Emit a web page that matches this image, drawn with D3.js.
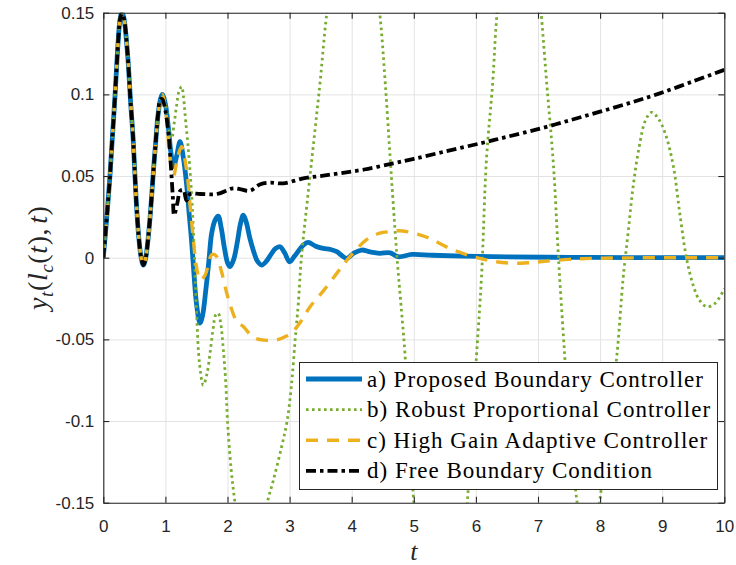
<!DOCTYPE html>
<html>
<head>
<meta charset="utf-8">
<script src="https://cdn.jsdelivr.net/npm/d3@7"></script>
<style>
  body { margin: 0; background: #fff; }
  svg { display: block; }
</style>
</head>
<body>
<div id="chart"></div>
<script>

// Chart size and plot box (MATLAB style figure)
const width = 736;
const height = 565;
const margin = {left: 103.3, right: 11.7, top: 12.7, bottom: 62.3};

// axis ticks and their labels
const xTicks = [0, 1, 2, 3, 4, 5, 6, 7, 8, 9, 10];
const yTicks = [-0.15, -0.1, -0.05, 0, 0.05, 0.1, 0.15];
const yTickLabels = ["-0.15", "-0.1", "-0.05", "0", "0.05", "0.1", "0.15"];

const legendLabels = [
  "a) Proposed Boundary Controller",
  "b) Robust Proportional Controller",
  "c) High Gain Adaptive Controller",
  "d) Free Boundary Condition"
];

// shared first oscillations (all four runs are identical until t ~ 0.95)
const startPart = [
  [0, 0], [0.05, 0.022], [0.107, 0.05], [0.15, 0.076], [0.19, 0.1], [0.24, 0.133],
  [0.27, 0.146], [0.3, 0.15], [0.33, 0.147], [0.39, 0.125], [0.44, 0.095], [0.48, 0.073],
  [0.53, 0.035], [0.57, 0.013], [0.61, 0.0], [0.645, -0.0045], [0.68, -0.0007],
  [0.72, 0.011], [0.76, 0.028], [0.805, 0.052], [0.84, 0.069], [0.88, 0.087], [0.92, 0.097]
];

// a) proposed boundary controller
const restA = [
  [0.95, 0.1], [1.0, 0.094], [1.05, 0.079], [1.09, 0.064], [1.13, 0.0557], [1.18, 0.062],
  [1.235, 0.071], [1.29, 0.061], [1.34, 0.0455], [1.38, 0.028], [1.42, 0.011], [1.46, -0.01],
  [1.5, -0.028], [1.557, -0.04], [1.6, -0.035], [1.65, -0.02], [1.7, -0.002], [1.745, 0.015],
  [1.8, 0.023], [1.85, 0.0255], [1.9, 0.018], [1.95, 0.006], [2.0, -0.003], [2.04, -0.0055],
  [2.1, -0.001], [2.16, 0.01], [2.21, 0.021], [2.255, 0.026], [2.3, 0.022], [2.36, 0.012],
  [2.42, 0.004], [2.48, -0.002], [2.55, -0.0045], [2.63, -0.002], [2.7, 0.002], [2.77, 0.0055],
  [2.845, 0.0067], [2.92, 0.003], [3.0, -0.0025], [3.08, 0.001], [3.16, 0.005], [3.23, 0.008],
  [3.3, 0.0094], [3.42, 0.007], [3.54, 0.0057], [3.66, 0.005], [3.76, 0.0037], [3.85, 0.001],
  [3.92, -0.0004], [4.04, 0.003], [4.16, 0.0047], [4.3, 0.0035], [4.45, 0.0027], [4.62, 0.003],
  [4.75, 0.0006], [4.97, 0.002], [5.3, 0.0015], [5.8, 0.001], [6.5, 0.0005], [7.5, 0.0002],
  [8.5, 0.0001], [10, 0]
];

// b) robust proportional controller (leaves the window several times)
const restB = [
  [0.95, 0.1], [1.02, 0.09], [1.06, 0.078], [1.1, 0.073], [1.14, 0.082], [1.18, 0.093],
  [1.22, 0.102], [1.262, 0.1047], [1.29, 0.099], [1.316, 0.088], [1.37, 0.066], [1.42, 0.04],
  [1.46, 0.008], [1.5, -0.032], [1.55, -0.065], [1.61, -0.078], [1.67, -0.071], [1.72, -0.058],
  [1.77, -0.043], [1.81, -0.035], [1.85, -0.034], [1.89, -0.04], [1.93, -0.055], [1.97, -0.075],
  [2.0, -0.1], [2.06, -0.13], [2.12, -0.15], [2.2, -0.172], [2.3, -0.186], [2.4, -0.188],
  [2.5, -0.178], [2.57, -0.165], [2.64, -0.15], [2.74, -0.136], [2.87, -0.116], [2.96, -0.1],
  [3.03, -0.078], [3.09, -0.05], [3.14, -0.028], [3.19, 0], [3.3, 0.04], [3.4, 0.075],
  [3.49, 0.107], [3.6, 0.15], [3.75, 0.19], [3.95, 0.215], [4.15, 0.21], [4.3, 0.19],
  [4.45, 0.15], [4.54, 0.107], [4.63, 0.055], [4.73, 0], [4.86, -0.06], [5.0, -0.15],
  [5.2, -0.23], [5.42, -0.26], [5.65, -0.23], [5.86, -0.15], [6.01, -0.06], [6.09, -0.012],
  [6.17, 0.06], [6.27, 0.107], [6.34, 0.15], [6.5, 0.21], [6.7, 0.235], [6.9, 0.21],
  [7.05, 0.15], [7.14, 0.107], [7.25, 0.056], [7.33, 0], [7.43, -0.06], [7.53, -0.115],
  [7.63, -0.15], [7.72, -0.172], [7.81, -0.18], [7.9, -0.172], [7.99, -0.15], [8.13, -0.105],
  [8.27, -0.06], [8.37, -0.013], [8.45, 0.015], [8.53, 0.043], [8.63, 0.068], [8.73, 0.084],
  [8.83, 0.089], [8.94, 0.085], [9.05, 0.076], [9.18, 0.056], [9.28, 0.028], [9.39, 0],
  [9.5, -0.017], [9.6, -0.026], [9.72, -0.03], [9.85, -0.028], [10, -0.019]
];

// c) high gain adaptive controller
const restC = [
  [0.95, 0.1], [1.02, 0.085], [1.07, 0.062], [1.13, 0.05], [1.2, 0.062], [1.26, 0.068],
  [1.34, 0.054], [1.4, 0.031], [1.45, 0.011], [1.5, -0.0055], [1.56, -0.0137], [1.64, -0.0106],
  [1.75, 0.002], [1.82, 0.001], [1.9, -0.008], [1.99, -0.022], [2.07, -0.032], [2.15, -0.039],
  [2.25, -0.042], [2.42, -0.0488], [2.6, -0.0505], [2.79, -0.0504], [2.95, -0.048],
  [3.06, -0.045], [3.2, -0.038], [3.33, -0.03], [3.55, -0.02], [3.76, -0.0096], [3.97, 0.0006],
  [4.24, 0.011], [4.45, 0.015], [4.62, 0.016], [4.75, 0.0165], [4.89, 0.016], [5.21, 0.0125],
  [5.58, 0.0057], [5.96, 0.0006], [6.33, -0.0025], [6.71, -0.0034], [7.03, -0.0025],
  [7.5, -0.001], [8, -0.0003], [10, 0]
];

// d) free boundary condition
const restD = [
  [0.95, 0.097], [1.0, 0.09], [1.05, 0.076], [1.085, 0.058], [1.12, 0.037], [1.14, 0.026],
  [1.19, 0.033], [1.24, 0.041], [1.29, 0.0415], [1.34, 0.035], [1.4, 0.039], [1.56, 0.039],
  [1.83, 0.039], [2.09, 0.0425], [2.2, 0.042], [2.36, 0.041], [2.53, 0.045], [2.68, 0.046],
  [2.9, 0.0455], [3.22, 0.0486], [3.5, 0.05], [3.81, 0.0517], [4.2, 0.054], [4.67, 0.0578],
  [5.0, 0.0605], [5.5, 0.065], [6.07, 0.07], [6.5, 0.074], [7.03, 0.079], [7.5, 0.084],
  [8.0, 0.0894], [8.5, 0.095], [8.96, 0.1006], [9.5, 0.108], [10, 0.115]
];

const series = [
  {name: legendLabels[0], values: startPart.concat(restA), color: "#0072BD", width: 4.8, dash: null},
  {name: legendLabels[1], values: startPart.concat(restB), color: "#77AC30", width: 2.8, dash: "2.6,3.4"},
  {name: legendLabels[2], values: startPart.concat(restC), color: "#EDB120", width: 3.4, dash: "12,9"},
  {name: legendLabels[3], values: startPart.concat(restD), color: "#000000", width: 3.8, dash: "10,4,3.5,4"}
];

const svg = d3.select("#chart")
  .append("svg")
  .attr("width", width)
  .attr("height", height)
  .attr("viewBox", [0, 0, width, height]);

const xScale = d3.scaleLinear()
  .domain([0, 10])
  .range([margin.left, width - margin.right]);

const yScale = d3.scaleLinear()
  .domain([-0.15, 0.15])
  .range([height - margin.bottom, margin.top]);

const plotW = width - margin.left - margin.right;
const plotH = height - margin.top - margin.bottom;

// grid lines
svg.append("g")
  .attr("class", "grid")
  .attr("transform", `translate(0,${height - margin.bottom})`)
  .call(d3.axisBottom(xScale).tickValues(xTicks).tickSize(-plotH).tickFormat(""))
  .call(g => g.select(".domain").remove());

svg.append("g")
  .attr("class", "grid")
  .attr("transform", `translate(${margin.left},0)`)
  .call(d3.axisLeft(yScale).tickValues(yTicks).tickSize(-plotW).tickFormat(""))
  .call(g => g.select(".domain").remove());

svg.selectAll(".grid line")
  .attr("stroke", "#e3e3e3")
  .attr("stroke-width", 1);

// clip so the curves stop at the axes box
svg.append("clipPath")
  .attr("id", "plot-clip")
  .append("rect")
  .attr("x", margin.left)
  .attr("y", margin.top)
  .attr("width", plotW)
  .attr("height", plotH);

const line = d3.line()
  .x(d => xScale(d[0]))
  .y(d => yScale(d[1]))
  .curve(d3.curveCatmullRom.alpha(0.5));

svg.append("g")
  .attr("clip-path", "url(#plot-clip)")
  .selectAll("path")
  .data(series)
  .enter()
  .append("path")
    .attr("d", d => line(d.values))
    .attr("fill", "none")
    .attr("stroke", d => d.color)
    .attr("stroke-width", d => d.width)
    .attr("stroke-dasharray", d => d.dash)
    .attr("stroke-linejoin", "round");

// axes box with inward ticks on all four sides
const axisColor = "#262626";

const xAxisB = svg.append("g")
  .attr("transform", `translate(0,${height - margin.bottom})`)
  .call(d3.axisBottom(xScale).tickValues(xTicks).tickSizeInner(-6).tickSizeOuter(0).tickPadding(17)
    .tickFormat(d => d));

const yAxisL = svg.append("g")
  .attr("transform", `translate(${margin.left},0)`)
  .call(d3.axisLeft(yScale).tickValues(yTicks).tickSizeInner(-6).tickSizeOuter(0).tickPadding(9)
    .tickFormat((d, i) => yTickLabels[i]));

const xAxisT = svg.append("g")
  .attr("transform", `translate(0,${margin.top})`)
  .call(d3.axisTop(xScale).tickValues(xTicks).tickSizeInner(-6).tickSizeOuter(0).tickFormat(""));

const yAxisR = svg.append("g")
  .attr("transform", `translate(${width - margin.right},0)`)
  .call(d3.axisRight(yScale).tickValues(yTicks).tickSizeInner(-6).tickSizeOuter(0).tickFormat(""));

[xAxisB, yAxisL, xAxisT, yAxisR].forEach(g => {
  g.select(".domain").attr("stroke", axisColor).attr("stroke-width", 1.1);
  g.selectAll(".tick line").attr("stroke", axisColor).attr("stroke-width", 1.1);
  g.selectAll("text")
    .attr("fill", axisColor)
    .attr("font-family", "Liberation Sans, Arial, sans-serif")
    .attr("font-size", "17px");
});

// axis titles
svg.append("text")
  .attr("x", xScale(5))
  .attr("y", 560)
  .attr("text-anchor", "middle")
  .attr("font-family", "Liberation Serif, serif")
  .attr("font-style", "italic")
  .attr("font-size", "26px")
  .attr("fill", axisColor)
  .text("t");

const yTitle = svg.append("text")
  .attr("transform", `translate(47,${yScale(0)}) rotate(-90)`)
  .attr("text-anchor", "middle")
  .attr("font-family", "Liberation Serif, serif")
  .attr("font-size", "28px")
  .attr("letter-spacing", "0.6px")
  .attr("fill", axisColor);

yTitle.append("tspan").attr("font-style", "italic").text("y");
yTitle.append("tspan").attr("font-style", "italic").attr("font-size", "19px").attr("dy", 6).text("t");
yTitle.append("tspan").attr("dy", -6).text("(");
yTitle.append("tspan").attr("font-style", "italic").text("l");
yTitle.append("tspan").attr("font-style", "italic").attr("font-size", "19px").attr("dy", 6).text("c");
yTitle.append("tspan").attr("dy", -6).text("(");
yTitle.append("tspan").attr("font-style", "italic").text("t");
yTitle.append("tspan").text("),");
yTitle.append("tspan").attr("font-style", "italic").attr("dx", 4).text("t");
yTitle.append("tspan").text(")");

// legend
const legend = svg.append("g");

legend.append("rect")
  .attr("x", 299.5)
  .attr("y", 362.5)
  .attr("width", 418)
  .attr("height", 127)
  .attr("fill", "#fff")
  .attr("stroke", axisColor)
  .attr("stroke-width", 1);

const rows = legend.selectAll(".row")
  .data(series)
  .enter()
  .append("g")
    .attr("class", "row")
    .attr("transform", (d, i) => `translate(0,${379 + i * 30.6})`);

rows.append("line")
  .attr("x1", 306)
  .attr("x2", 362)
  .attr("y1", 0)
  .attr("y2", 0)
  .attr("stroke", d => d.color)
  .attr("stroke-width", d => d.width)
  .attr("stroke-dasharray", d => d.dash);

rows.append("text")
  .attr("x", 367)
  .attr("y", 7.5)
  .attr("font-family", "Liberation Serif, serif")
  .attr("font-size", "23px")
  .attr("letter-spacing", "1px")
  .attr("fill", "#000")
  .text(d => d.name);

</script>
</body>
</html>
